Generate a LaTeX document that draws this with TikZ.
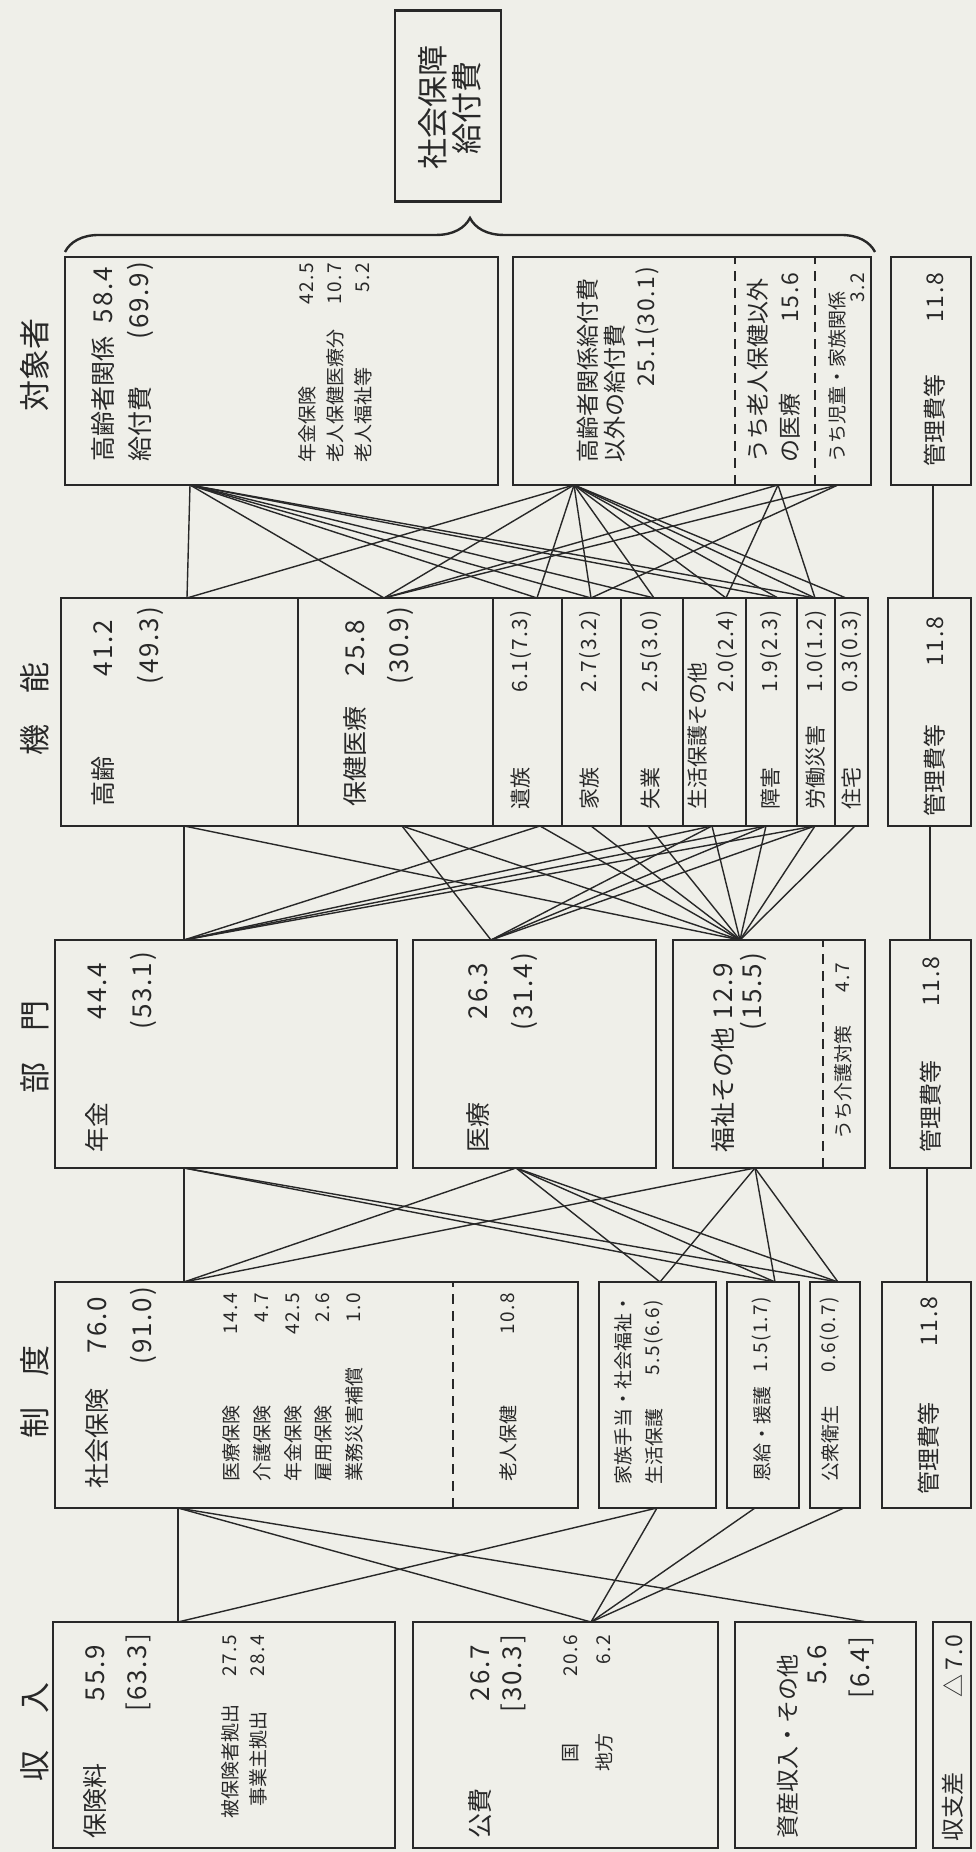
\documentclass[tikz,border=0pt]{standalone}
\usepackage{fontspec}
\setmainfont{Noto Sans CJK JP}
\newfontfamily\numfont[LetterSpace=7]{Noto Sans CJK JP}
\usepackage{tikz}
\usetikzlibrary{decorations.pathreplacing}
\definecolor{ink}{RGB}{40,40,40}
\definecolor{paper}{RGB}{239,239,233}
\tikzstyle{cell}=[rectangle,draw=ink,line width=2.6pt,inner sep=0pt,outer sep=0pt]
\tikzstyle{link}=[draw=ink,line width=1.4pt]
\tikzstyle{split}=[draw=ink,line width=2.4pt,dash pattern=on 10pt off 7pt]
\tikzstyle{head}=[inner sep=0pt,text=ink,font=\fontsize{31}{34}\selectfont]
\tikzstyle{tbig}=[inner sep=0pt,text=ink,font=\fontsize{25}{30}\selectfont]
\tikzstyle{tmid}=[inner sep=0pt,text=ink,font=\fontsize{23}{25}\selectfont]
\tikzstyle{tfun}=[inner sep=0pt,text=ink,font=\fontsize{21}{23}\selectfont]
\tikzstyle{tsml}=[inner sep=0pt,text=ink,font=\fontsize{19}{21}\selectfont]
\tikzstyle{vbig}=[inner sep=0pt,text=ink,font={\fontsize{26}{30}\numfont}]
\tikzstyle{vmid}=[inner sep=0pt,text=ink,font={\fontsize{23}{25}\numfont}]
\tikzstyle{vfun}=[inner sep=0pt,text=ink,font={\fontsize{21}{23}\numfont}]
\tikzstyle{vsml}=[inner sep=0pt,text=ink,font={\fontsize{19}{21}\numfont}]

\begin{document}
\begin{tikzpicture}[x=1pt,y=1pt,rotate=90,transform shape]
\fill[paper] (0,-976) rectangle (1852,0);

% headings
\node[head] (h-shu) at (120,-35) {収\hspace{1.2em}入};
\node[head] (h-sei) at (460,-35) {制\hspace{1em}度};
\node[head] (h-bu) at (805,-35) {部\hspace{1em}門};
\node[head] (h-ki) at (1143,-35) {機\hspace{1em}能};
\node[head] (h-tai) at (1487,-35) {対象者};

% total and brace
\node[cell,minimum width=191pt,minimum height=106pt] (kyufu) at (1746,-448) {};
\node[head,align=center] (kyufu-t) at (1744,-450) {社会保障\\給付費};
\coordinate (br-a) at (1600,-65);
\coordinate (br-b) at (1600,-875);
\draw[ink,line width=2.4pt,decorate,decoration={brace,amplitude=34pt}] (br-a) -- (br-b);

% boxes: 対象者
\node[cell,minimum width=228pt,minimum height=433pt,anchor=north west] (kk) at (1367,-65) {};
\node[cell,minimum width=228pt,minimum height=358pt,anchor=north west] (ig) at (1367,-513) {};
\node[cell,minimum width=228pt,minimum height=80pt,anchor=north west] (k5) at (1367,-891) {};
\draw[split] (1367,-735) -- (1595,-735);
\draw[split] (1367,-815) -- (1595,-815);

% boxes: 機能
\node[cell,minimum width=228pt,minimum height=237pt,anchor=north west] (ko) at (1026,-61) {};
\node[cell,minimum width=228pt,minimum height=195pt,anchor=north west] (hi) at (1026,-298) {};
\node[cell,minimum width=228pt,minimum height=69pt,anchor=north west] (iz) at (1026,-493) {};
\node[cell,minimum width=228pt,minimum height=59pt,anchor=north west] (ka) at (1026,-562) {};
\node[cell,minimum width=228pt,minimum height=62pt,anchor=north west] (sh) at (1026,-621) {};
\node[cell,minimum width=228pt,minimum height=63pt,anchor=north west] (sp) at (1026,-683) {};
\node[cell,minimum width=228pt,minimum height=51pt,anchor=north west] (sg) at (1026,-746) {};
\node[cell,minimum width=228pt,minimum height=38pt,anchor=north west] (rd) at (1026,-797) {};
\node[cell,minimum width=228pt,minimum height=33pt,anchor=north west] (jt) at (1026,-835) {};
\node[cell,minimum width=228pt,minimum height=83pt,anchor=north west] (k4) at (1026,-888) {};

% boxes: 部門
\node[cell,minimum width=228pt,minimum height=342pt,anchor=north west] (nk) at (684,-55) {};
\node[cell,minimum width=228pt,minimum height=243pt,anchor=north west] (ir) at (684,-413) {};
\node[cell,minimum width=228pt,minimum height=192pt,anchor=north west] (fk) at (684,-673) {};
\node[cell,minimum width=228pt,minimum height=81pt,anchor=north west] (k3) at (684,-890) {};
\draw[split] (684,-823) -- (912,-823);

% boxes: 制度
\node[cell,minimum width=226pt,minimum height=523pt,anchor=north west] (sk) at (344,-55) {};
\node[cell,minimum width=226pt,minimum height=117pt,anchor=north west] (kt) at (344,-599) {};
\node[cell,minimum width=226pt,minimum height=72pt,anchor=north west] (on) at (344,-727) {};
\node[cell,minimum width=226pt,minimum height=50pt,anchor=north west] (es) at (344,-810) {};
\node[cell,minimum width=226pt,minimum height=89pt,anchor=north west] (k2) at (344,-882) {};
\draw[split] (344,-453) -- (570,-453);

% boxes: 収入
\node[cell,minimum width=226pt,minimum height=342pt,anchor=north west] (hr) at (4,-53) {};
\node[cell,minimum width=226pt,minimum height=305pt,anchor=north west] (kh) at (4,-413) {};
\node[cell,minimum width=226pt,minimum height=181pt,anchor=north west] (ss) at (4,-735) {};
\node[cell,minimum width=226pt,minimum height=38pt,anchor=north west] (sd) at (4,-933) {};

% texts: 対象者
\node[tbig,anchor=west] (kk-t1) at (1390,-103) {高齢者関係};
\node[vbig,anchor=east] (kk-t2) at (1585,-103) {58.4};
\node[tbig,anchor=west] (kk-t3) at (1390,-140) {給付費};
\node[vbig,anchor=east] (kk-t4) at (1590,-140) {(69.9)};
\node[tsml,anchor=west] (kk-t5) at (1389,-307) {年金保険};
\node[vsml,anchor=east] (kk-t6) at (1589,-307) {42.5};
\node[tsml,anchor=west] (kk-t7) at (1389,-335) {老人保健医療分};
\node[vsml,anchor=east] (kk-t8) at (1589,-335) {10.7};
\node[tsml,anchor=west] (kk-t9) at (1389,-363) {老人福祉等};
\node[vsml,anchor=east] (kk-t10) at (1589,-363) {5.2};
\node[tmid,anchor=west] (ig-t1) at (1389,-588) {高齢者関係給付費};
\node[tmid,anchor=west] (ig-t2) at (1389,-615) {以外の給付費};
\node[vmid,anchor=east] (ig-t3) at (1585,-647) {25.1(30.1)};
\node[tmid,anchor=west] (ig-t4) at (1389,-758) {うち老人保健以外};
\node[tmid,anchor=west] (ig-t5) at (1389,-790) {の医療};
\node[vmid,anchor=east] (ig-t6) at (1579,-790) {15.6};
\node[tsml,anchor=west] (ig-t7) at (1389,-837) {うち児童・家族関係};
\node[vsml,anchor=east] (ig-t8) at (1579,-858) {3.2};
\node[tmid,anchor=west] (k5-t1) at (1385,-935) {管理費等};
\node[vmid,anchor=east] (k5-t2) at (1579,-935) {11.8};

% texts: 機能
\node[tbig,anchor=west] (ko-t1) at (1045,-103) {高齢};
\node[vbig,anchor=east] (ko-t2) at (1232,-103) {41.2};
\node[vbig,anchor=east] (ko-t3) at (1245,-150) {(49.3)};
\node[tbig,anchor=west] (hi-t1) at (1045,-355) {保健医療};
\node[vbig,anchor=east] (hi-t2) at (1232,-355) {25.8};
\node[vbig,anchor=east] (hi-t3) at (1245,-400) {(30.9)};
\node[tfun,anchor=west] (iz-t1) at (1042,-521) {遺族};
\node[vfun,anchor=east] (iz-t2) at (1242,-521) {6.1(7.3)};
\node[tfun,anchor=west] (ka-t1) at (1042,-590) {家族};
\node[vfun,anchor=east] (ka-t2) at (1242,-590) {2.7(3.2)};
\node[tfun,anchor=west] (sh-t1) at (1042,-651) {失業};
\node[vfun,anchor=east] (sh-t2) at (1242,-651) {2.5(3.0)};
\node[tfun,anchor=west] (sp-t1) at (1042,-698) {生活保護その他};
\node[vfun,anchor=east] (sp-t2) at (1242,-727) {2.0(2.4)};
\node[tfun,anchor=west] (sg-t1) at (1042,-771) {障害};
\node[vfun,anchor=east] (sg-t2) at (1242,-771) {1.9(2.3)};
\node[tfun,anchor=west] (rd-t1) at (1042,-816) {労働災害};
\node[vfun,anchor=east] (rd-t2) at (1242,-816) {1.0(1.2)};
\node[tfun,anchor=west] (jt-t1) at (1042,-851) {住宅};
\node[vfun,anchor=east] (jt-t2) at (1242,-851) {0.3(0.3)};
\node[tmid,anchor=west] (k4-t1) at (1035,-935) {管理費等};
\node[vmid,anchor=east] (k4-t2) at (1235,-935) {11.8};

% texts: 部門
\node[tbig,anchor=west] (nk-t1) at (699,-97) {年金};
\node[vbig,anchor=east] (nk-t2) at (889,-97) {44.4};
\node[vbig,anchor=east] (nk-t3) at (900,-143) {(53.1)};
\node[tbig,anchor=west] (ir-t1) at (699,-478) {医療};
\node[vbig,anchor=east] (ir-t2) at (889,-478) {26.3};
\node[vbig,anchor=east] (ir-t3) at (899,-524) {(31.4)};
\node[tbig,anchor=west] (fk-t1) at (699,-723) {福祉その他};
\node[vbig,anchor=east] (fk-t2) at (889,-723) {12.9};
\node[vbig,anchor=east] (fk-t3) at (899,-753) {(15.5)};
\node[tsml,anchor=west] (fk-t4) at (712,-843) {うち介護対策};
\node[vsml,anchor=east] (fk-t5) at (889,-843) {4.7};
\node[tmid,anchor=west] (k3-t1) at (699,-931) {管理費等};
\node[vmid,anchor=east] (k3-t2) at (895,-931) {11.8};

% texts: 制度
\node[tbig,anchor=west] (sk-t1) at (363,-97) {社会保険};
\node[vbig,anchor=east] (sk-t2) at (555,-97) {76.0};
\node[vbig,anchor=east] (sk-t3) at (565,-143) {(91.0)};
\node[tsml,anchor=west] (sk-t4) at (370,-231) {医療保険};
\node[vsml,anchor=east] (sk-t5) at (559,-231) {14.4};
\node[tsml,anchor=west] (sk-t6) at (370,-262) {介護保険};
\node[vsml,anchor=east] (sk-t7) at (559,-262) {4.7};
\node[tsml,anchor=west] (sk-t8) at (370,-293) {年金保険};
\node[vsml,anchor=east] (sk-t9) at (559,-293) {42.5};
\node[tsml,anchor=west] (sk-t10) at (370,-323) {雇用保険};
\node[vsml,anchor=east] (sk-t11) at (559,-323) {2.6};
\node[tsml,anchor=west] (sk-t12) at (370,-354) {業務災害補償};
\node[vsml,anchor=east] (sk-t13) at (559,-354) {1.0};
\node[tsml,anchor=west] (sk-t14) at (370,-508) {老人保健};
\node[vsml,anchor=east] (sk-t15) at (559,-508) {10.8};
\node[tsml,anchor=west] (kt-t1) at (367,-623) {家族手当・社会福祉・};
\node[tsml,anchor=west] (kt-t2) at (367,-654) {生活保護};
\node[vsml,anchor=east] (kt-t3) at (552,-654) {5.5(6.6)};
\node[tsml,anchor=west] (on-t1) at (370,-762) {恩給・援護};
\node[vsml,anchor=east] (on-t2) at (555,-762) {1.5(1.7)};
\node[tsml,anchor=west] (es-t1) at (370,-830) {公衆衛生};
\node[vsml,anchor=east] (es-t2) at (555,-830) {0.6(0.7)};
\node[tmid,anchor=west] (k2-t1) at (357,-929) {管理費等};
\node[vmid,anchor=east] (k2-t2) at (555,-929) {11.8};

% texts: 収入
\node[tbig,anchor=west] (hr-t1) at (13,-95) {保険料};
\node[vbig,anchor=east] (hr-t2) at (207,-95) {55.9};
\node[vbig,anchor=east] (hr-t3) at (218,-138) {[63.3]};
\node[tsml,anchor=west] (hr-t4) at (33,-230) {被保険者拠出};
\node[vsml,anchor=east] (hr-t5) at (217,-230) {27.5};
\node[tsml,anchor=west] (hr-t6) at (45,-258) {事業主拠出};
\node[vsml,anchor=east] (hr-t7) at (217,-258) {28.4};
\node[tbig,anchor=west] (kh-t1) at (13,-480) {公費};
\node[vbig,anchor=east] (kh-t2) at (207,-480) {26.7};
\node[vbig,anchor=east] (kh-t3) at (217,-513) {[30.3]};
\node[tsml,anchor=west] (kh-t4) at (80,-571) {\makebox[2em]{国}};
\node[vsml,anchor=east] (kh-t5) at (217,-571) {20.6};
\node[tsml,anchor=west] (kh-t6) at (80,-604) {地方};
\node[vsml,anchor=east] (kh-t7) at (217,-604) {6.2};
\node[tmid,anchor=west] (ss-t1) at (13,-788) {資産収入・その他};
\node[vbig,anchor=east] (ss-t2) at (207,-817) {5.6};
\node[vbig,anchor=east] (ss-t3) at (215,-861) {[6.4]};
\node[tmid,anchor=west] (sd-t1) at (10,-953) {収支差};
\node[vmid,anchor=east] (sd-t2) at (217,-953) {△\,7.0};

% ports
\coordinate (kk-w) at (1367,-190);
\coordinate (ig-w) at (1367,-574);
\coordinate (ii-w) at (1367,-778);
\coordinate (jd-w) at (1367,-838);
\coordinate (k5-w) at (1367,-933);
\coordinate (ko-e) at (1254,-187);
\coordinate (hi-e) at (1254,-384);
\coordinate (iz-e) at (1254,-537);
\coordinate (ka-e) at (1254,-591);
\coordinate (sh-e) at (1254,-654);
\coordinate (sp-e) at (1254,-726);
\coordinate (sg-e) at (1254,-778);
\coordinate (rd-e) at (1254,-815);
\coordinate (jt-e) at (1254,-846);
\coordinate (k4-e) at (1254,-933);
\coordinate (ko-w) at (1026,-184);
\coordinate (hi-w) at (1026,-402);
\coordinate (iz-w) at (1026,-540);
\coordinate (ka-w) at (1026,-591);
\coordinate (sh-w) at (1026,-648);
\coordinate (sp-w) at (1026,-712);
\coordinate (sg-w) at (1026,-766);
\coordinate (rd-w) at (1026,-815);
\coordinate (jt-w) at (1026,-855);
\coordinate (k4-w) at (1026,-930);
\coordinate (nk-e) at (912,-184);
\coordinate (ir-e) at (912,-491);
\coordinate (fk-e) at (912,-740);
\coordinate (k3-e) at (912,-930);
\coordinate (nk-w) at (684,-184);
\coordinate (ir-w) at (684,-516);
\coordinate (fk-w) at (684,-755);
\coordinate (k3-w) at (684,-927);
\coordinate (sk-e) at (570,-184);
\coordinate (kt-e) at (570,-660);
\coordinate (on-e) at (570,-775);
\coordinate (es-e) at (570,-838);
\coordinate (k2-e) at (570,-927);
\coordinate (sk-w) at (344,-178);
\coordinate (kt-w) at (344,-657);
\coordinate (on-w) at (344,-755);
\coordinate (es-w) at (344,-844);
\coordinate (hr-e) at (230,-178);
\coordinate (kh-e) at (230,-591);
\coordinate (ss-e) at (230,-867);

% links: 対象者 - 機能
\foreach \dst in {ko,hi,iz,ka,sh,sg,rd} \draw[link] (kk-w) -- (\dst-e);
\foreach \dst in {ko,hi,iz,ka,sh,sp,sg,rd,jt} \draw[link] (ig-w) -- (\dst-e);
\foreach \dst in {hi,sp,rd} \draw[link] (ii-w) -- (\dst-e);
\foreach \dst in {hi,ka} \draw[link] (jd-w) -- (\dst-e);
\draw[link] (k5-w) -- (k4-e);

% links: 機能 - 部門
\foreach \src in {ko,iz,sp,sg,rd} \draw[link] (\src-w) -- (nk-e);
\foreach \src in {hi,sp,sg,rd} \draw[link] (\src-w) -- (ir-e);
\foreach \src in {ko,hi,iz,ka,sh,sp,sg,rd,jt} \draw[link] (\src-w) -- (fk-e);
\draw[link] (k4-w) -- (k3-e);

% links: 部門 - 制度
\foreach \src in {nk,ir,fk} \draw[link] (\src-w) -- (sk-e);
\foreach \src in {ir,fk} \draw[link] (\src-w) -- (kt-e);
\foreach \src in {nk,ir,fk} \draw[link] (\src-w) -- (on-e);
\foreach \src in {nk,ir,fk} \draw[link] (\src-w) -- (es-e);
\draw[link] (k3-w) -- (k2-e);

% links: 制度 - 収入
\foreach \dst in {hr,kh,ss} \draw[link] (sk-w) -- (\dst-e);
\foreach \src in {kt,on,es} \draw[link] (\src-w) -- (kh-e);
\draw[link] (kt-w) -- (hr-e);

\end{tikzpicture}
\end{document}
